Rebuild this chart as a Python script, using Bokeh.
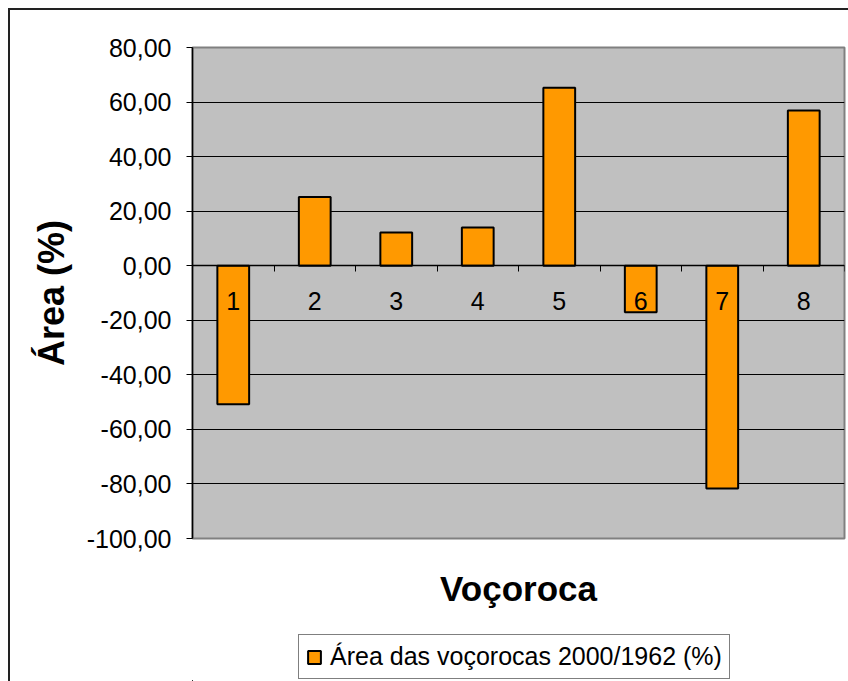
from bokeh.plotting import figure
from bokeh.layouts import column
from bokeh.models import Range1d, FixedTicker, LinearAxis, Legend, LegendItem, ColumnDataSource
from bokeh.embed import file_html
from bokeh.resources import INLINE

# ---- data ----
categories = [1, 2, 3, 4, 5, 6, 7, 8]
category_labels = ["1", "2", "3", "4", "5", "6", "7", "8"]
area_change = [-50.8, 25.2, 12.2, 14.0, 65.2, -17.1, -81.7, 56.9]
series_name = "Área das voçorocas 2000/1962 (%)"
y_ticks = [-100, -80, -60, -40, -20, 0, 20, 40, 60, 80]
y_tick_labels = ["-100,00", "-80,00", "-60,00", "-40,00", "-20,00",
                 "0,00", "20,00", "40,00", "60,00", "80,00"]
x_title = "Voçoroca"
y_title = "Área (%)"

FONT = "Liberation Sans"
BAR_FILL = "#FF9900"

src = ColumnDataSource(dict(x=categories, top=area_change))

p = figure(width=838, height=610, output_backend="svg", toolbar_location=None,
           x_range=Range1d(categories[0] - 0.5, categories[-1] + 0.5),
           y_range=Range1d(y_ticks[0], y_ticks[-1]),
           x_axis_location=None, y_axis_location=None)
p.min_border_left = 182
p.min_border_right = 4
p.min_border_top = 37
p.min_border_bottom = 82
p.background_fill_color = "#C0C0C0"
p.border_fill_color = "white"
p.outline_line_color = "#808080"
p.outline_line_width = 2

# y axis
yaxis = LinearAxis(ticker=FixedTicker(ticks=y_ticks, minor_ticks=[]))
yaxis.major_label_overrides = {t: l for t, l in zip(y_ticks, y_tick_labels)}
yaxis.major_label_text_font = FONT
yaxis.major_label_text_font_size = "25px"
yaxis.major_label_text_color = "black"
yaxis.major_label_standoff = 15
yaxis.major_tick_out = 6
yaxis.major_tick_in = 0
yaxis.major_tick_line_color = "black"
yaxis.axis_line_color = "black"
yaxis.axis_line_width = 1.5
yaxis.axis_label = y_title
yaxis.axis_label_text_font = FONT
yaxis.axis_label_text_font_size = "36px"
yaxis.axis_label_text_font_style = "bold"
yaxis.axis_label_text_color = "black"
yaxis.axis_label_standoff = 12
p.add_layout(yaxis, "left")

# category axis at zero
boundaries = [c - 0.5 for c in categories] + [categories[-1] + 0.5]
xaxis = LinearAxis(ticker=FixedTicker(ticks=categories, minor_ticks=boundaries),
                   fixed_location=0)
xaxis.major_label_overrides = {c: l for c, l in zip(categories, category_labels)}
xaxis.major_label_text_font = FONT
xaxis.major_label_text_font_size = "25px"
xaxis.major_label_text_color = "black"
xaxis.major_label_standoff = 20
xaxis.major_tick_out = 0
xaxis.major_tick_in = 0
xaxis.minor_tick_out = 6
xaxis.minor_tick_in = 0
xaxis.minor_tick_line_color = "black"
xaxis.axis_line_color = "black"
xaxis.axis_line_width = 1.5
p.add_layout(xaxis, "below")

# title axis
taxis = LinearAxis(ticker=FixedTicker(ticks=[]))
taxis.axis_line_color = None
taxis.major_tick_line_color = None
taxis.minor_tick_line_color = None
taxis.major_label_text_font_size = "0px"
taxis.axis_label = x_title
taxis.axis_label_text_font = FONT
taxis.axis_label_text_font_size = "35px"
taxis.axis_label_text_font_style = "bold"
taxis.axis_label_text_color = "black"
taxis.axis_label_standoff = 30
p.add_layout(taxis, "below")

p.xgrid.visible = False
p.ygrid.ticker = FixedTicker(ticks=y_ticks[1:-1])
p.ygrid.grid_line_color = "black"
p.ygrid.grid_line_width = 1

p.vbar(x="x", top="top", bottom=0, width=0.39, source=src,
       fill_color=BAR_FILL, line_color="black", line_width=2)

# legend strip (separate small figure so the legend is not clipped);
# its ranges are set away from the data so the bars themselves stay out of view
p2 = figure(width=838, height=61, output_backend="svg", toolbar_location=None,
            x_range=Range1d(1000, 1001), y_range=Range1d(1000, 1001),
            x_axis_location=None, y_axis_location=None, min_border=0)
p2.grid.visible = False
p2.outline_line_color = None
p2.background_fill_color = "white"
p2.border_fill_color = "white"
leg_bars = p2.vbar(x="x", top="top", bottom=0, width=0.39, source=src,
                   fill_color=BAR_FILL, line_color="black", line_width=2)

legend = Legend(items=[LegendItem(label=series_name, renderers=[leg_bars])],
                location=(106, 2))
legend.label_text_font = FONT
legend.label_text_font_size = "25px"
legend.label_text_color = "black"
legend.border_line_color = "black"
legend.border_line_width = 1
legend.background_fill_color = "white"
legend.background_fill_alpha = 1
legend.padding = 7
legend.margin = 0
legend.spacing = 0
legend.glyph_width = 16
legend.glyph_height = 16
legend.label_standoff = 8
p2.add_layout(legend, "center")

layout = column(p, p2, spacing=0)
layout.styles = {"margin-left": "8px", "margin-top": "8px",
                 "border-top": "2px solid #222222", "border-left": "2px solid #222222"}

open("out.html", "w").write(file_html(layout, INLINE))
